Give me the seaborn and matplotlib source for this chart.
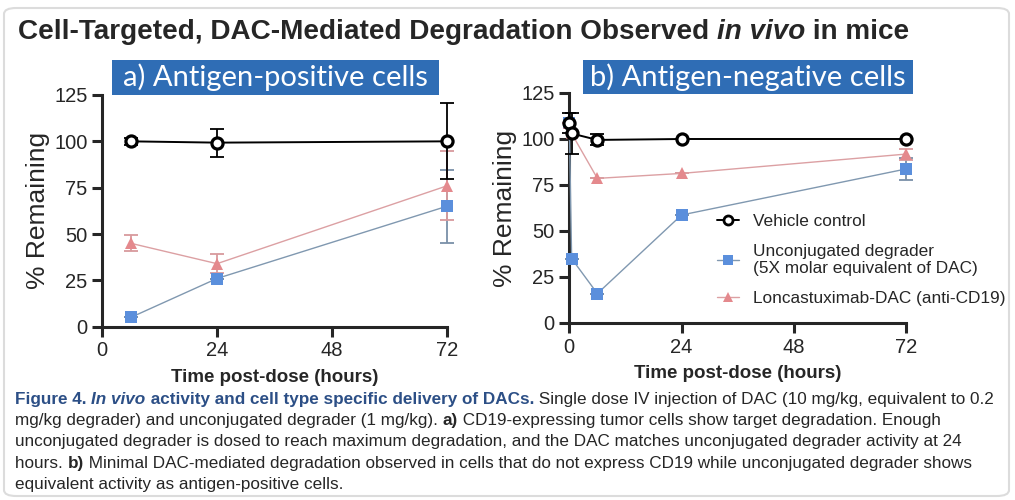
import matplotlib
matplotlib.use("Agg")
import matplotlib.pyplot as plt
import seaborn as sns
import pandas as pd
from matplotlib.lines import Line2D
from matplotlib.patches import Rectangle, FancyBboxPatch

# --- données ---
a_time = [6, 24, 72]
a_vehicle = [100, 99.3, 100]
a_vehicle_err = [2, 7.5, 20.5]
a_unconj = [5, 26, 65]
a_unconj_err = [0, 0, 19.8]
a_lonca = [45, 34, 76]
a_lonca_err = [4.3, 5, 18.6]

b_time = [0, 0.5, 6, 24, 72]
b_vehicle = [108.5, 103, 99.5, 100, 100]
b_vehicle_err = [5.5, 11, 3, 0, 0]
b_unconj = [108.5, 35, 16, 58.7, 83.7]
b_unconj_err = [0, 0, 0, 0, 6]
b_lonca = [108.5, 103, 78.6, 81.3, 91.8]
b_lonca_err = [0, 0, 0, 0, 3]

x_ticks = [0, 24, 48, 72]
y_ticks = [0, 25, 50, 75, 100, 125]

series_labels = ["Vehicle control",
                 "Unconjugated degrader\n(5X molar equivalent of DAC)",
                 "Loncastuximab-DAC (anti-CD19)"]

sns.set_style("ticks")
plt.rcParams["font.family"] = ["Liberation Sans", "DejaVu Sans"]

W, H = 1015, 500
fig = plt.figure(figsize=(W / 100, H / 100), dpi=100)
fig.patch.set_facecolor("white")

# cadre gris arrondi
fig.patches.append(FancyBboxPatch((4 / W, 4 / H), 1 - 10 / W, 1 - 12 / H,
                                  boxstyle="round,pad=0,rounding_size=0.012",
                                  transform=fig.transFigure, fc="none",
                                  ec="#dcdcdc", lw=1.5))

BLACK = "black"
BLUE_M = "#5b8fdc"
BLUE_L = "#8098b0"
PINK_M = "#e4898d"
PINK_L = "#dca0a3"

styles = [
    dict(color=BLACK, lw=1.4, marker="o", ms=8, mfc="white", mec=BLACK, mew=2.3, ecol=BLACK),
    dict(color=BLUE_L, lw=1.0, marker="s", ms=9, mfc=BLUE_M, mec=BLUE_M, mew=0, ecol="#7a90a8"),
    dict(color=PINK_L, lw=1.0, marker="^", ms=9, mfc=PINK_M, mec=PINK_M, mew=0, ecol="#d89a9d"),
]


def draw_panel(ax, t, series):
    order = [1, 2, 0]
    for i in order:
        y, err = series[i]
        st = styles[i]
        df = pd.DataFrame({"time": t, "value": y})
        sns.lineplot(data=df, x="time", y="value", ax=ax, color=st["color"], lw=st["lw"],
                     marker=st["marker"], ms=st["ms"], markerfacecolor=st["mfc"],
                     markeredgecolor=st["mec"], markeredgewidth=st["mew"],
                     errorbar=None, clip_on=False, zorder=3 + (i == 0))
        ax.errorbar(t, y, yerr=err, fmt="none", ecolor=st["ecol"], elinewidth=1.3,
                    capsize=5, capthick=1.3, clip_on=False, zorder=2 + (i == 0))
    ax.set_xlim(0, 72)
    ax.set_ylim(0, 125)
    ax.set_xticks(x_ticks)
    ax.set_yticks(y_ticks)
    sns.despine(ax=ax)
    for s in ["left", "bottom"]:
        ax.spines[s].set_linewidth(2.2)
    ax.tick_params(width=2.2, length=7, labelsize=14.5, direction="out")
    ax.set_xlabel("Time post-dose (hours)", fontsize=13.5, fontweight="bold", labelpad=6)
    ax.set_ylabel("% Remaining", fontsize=19, labelpad=3)


ax_a = fig.add_axes([102 / W, 1 - 326.7 / H, (447 - 102) / W, (326.7 - 95) / H])
draw_panel(ax_a, a_time, [(a_vehicle, a_vehicle_err), (a_unconj, a_unconj_err),
                          (a_lonca, a_lonca_err)])

ax_b = fig.add_axes([569.3 / W, 1 - 323 / H, (906 - 569.3) / W, (323 - 93) / H])
draw_panel(ax_b, b_time, [(b_vehicle, b_vehicle_err), (b_unconj, b_unconj_err),
                          (b_lonca, b_lonca_err)])

handles = []
for st in styles:
    handles.append(Line2D([], [], color=st["color"], lw=st["lw"], marker=st["marker"],
                          ms=st["ms"] - 1.5, mfc=st["mfc"], mec=st["mec"],
                          mew=min(st["mew"], 2.0)))
ax_b.legend(handles, series_labels, loc="upper left", bbox_to_anchor=(0.418, 0.503),
            frameon=False, fontsize=12.4, handlelength=1.3, handletextpad=0.8,
            labelspacing=0.85, borderaxespad=0)

# bandeaux bleus
HDR = "#2f6db5"
for (x0, x1, y0, y1, txt) in [(112, 439, 60, 95, "a) Antigen-positive cells"),
                              (583, 913, 60, 94, "b) Antigen-negative cells")]:
    fig.patches.append(Rectangle((x0 / W, 1 - y1 / H), (x1 - x0) / W, (y1 - y0) / H,
                                 transform=fig.transFigure, fc=HDR, ec="none"))
    fig.text((x0 + x1) / 2 / W, 1 - (y0 + y1) / 2 / H, txt, color="white",
             fontsize=21, family="Lato", ha="center", va="center")

renderer = fig.canvas.get_renderer()


def rich(x_px, y_px, parts, size, family):
    x = x_px / W
    for txt, kw in parts:
        t = fig.text(x, 1 - y_px / H, txt, fontsize=size, family=family,
                     va="baseline", **kw)
        bb = t.get_window_extent(renderer)
        x += bb.width / W


# titre
rich(18, 39, [("Cell-Targeted, DAC-Mediated Degradation Observed ", dict(fontweight="bold")),
              ("in vivo", dict(fontweight="bold", style="italic")),
              (" in mice", dict(fontweight="bold"))], 20.1, "Liberation Sans")

# légende de figure
CAP_BLUE = "#2c4f86"
cap_size = 12.3
b = dict(color=CAP_BLUE, fontweight="bold")
lines = [
    [("Figure 4. ", b), ("In vivo", dict(b, style="italic")),
     (" activity and cell type specific delivery of DACs.", b),
     (" Single dose IV injection of DAC (10 mg/kg, equivalent to 0.2", {})],
    [("mg/kg degrader) and unconjugated degrader (1 mg/kg). ", {}), ("a)", dict(fontweight="bold")),
     (" CD19-expressing tumor cells show target degradation. Enough", {})],
    [("unconjugated degrader is dosed to reach maximum degradation, and the DAC matches unconjugated degrader activity at 24", {})],
    [("hours. ", {}), ("b)", dict(fontweight="bold")),
     (" Minimal DAC-mediated degradation observed in cells that do not express CD19 while unconjugated degrader shows", {})],
    [("equivalent activity as antigen-positive cells.", {})],
]
for k, parts in enumerate(lines):
    rich(15, 404 + k * 21.2, parts, cap_size, "Liberation Sans")

fig.savefig("out.png", dpi=100)
